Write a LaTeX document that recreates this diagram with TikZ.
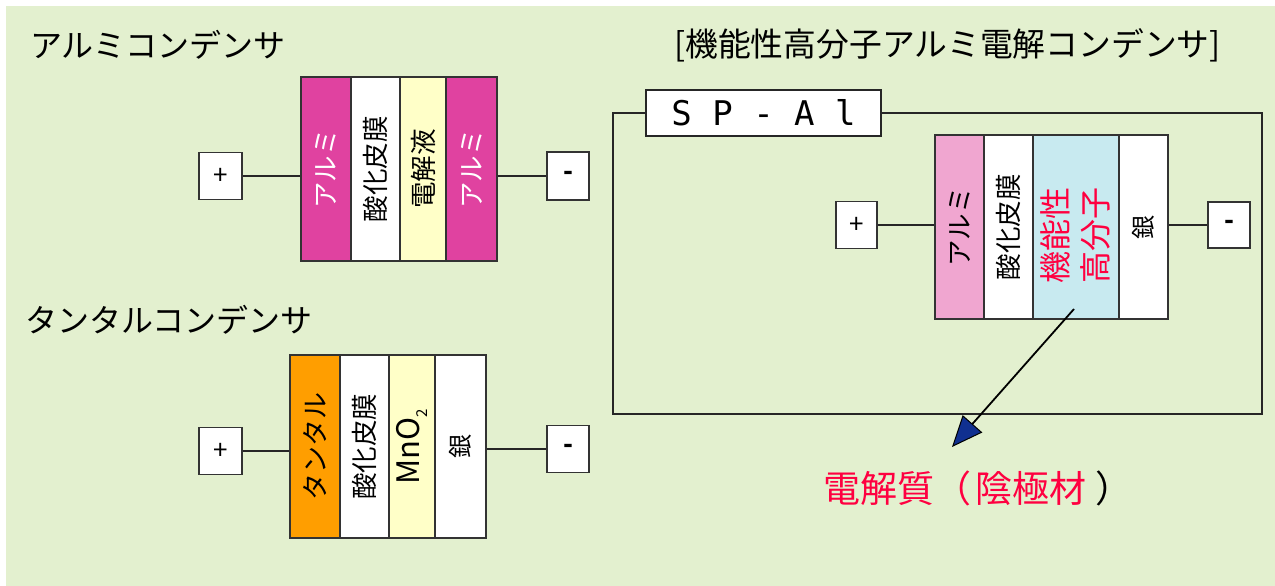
\documentclass[tikz,border=0pt]{standalone}
\usepackage{fontspec}
\setmainfont{Noto Sans CJK JP}
\newfontfamily\spmono{DejaVu Sans Mono}
\usetikzlibrary{arrows.meta}
\definecolor{bggreen}{HTML}{E3F0CF}
\definecolor{magAl}{HTML}{E042A0}
\definecolor{pinkAl}{HTML}{F0A6D0}
\definecolor{lblue}{HTML}{C8EAF0}
\definecolor{lyellow}{HTML}{FFFFC8}
\definecolor{tantal}{HTML}{FF9E00}
\definecolor{redtxt}{HTML}{FF0040}
\definecolor{navyhead}{HTML}{103090}
\tikzset{
  layer/.style={draw=black!80, line width=1.4pt, minimum height=184pt, inner sep=0pt},
  vtext/.style={rotate=90, font=\fontsize{26.5}{30}\selectfont, inner sep=0pt},
  term/.style={draw=black!80, fill=white, line width=1.2pt, inner sep=0pt,
    minimum width=43pt, minimum height=47pt, font=\fontsize{26}{30}\selectfont},
  wire/.style={draw=black!85, line width=1.2pt},
  titletext/.style={font=\fontsize{32}{38}\selectfont, anchor=west, inner sep=0pt},
}
\begin{document}
\begin{tikzpicture}[x=1pt, y=-1pt]
\useasboundingbox (0,0) rectangle (1275,586);
\fill[white] (0,0) rectangle (1275,586);
\fill[bggreen] (6,6) rectangle (1275,586);

% ---------- titles ----------
\node[titletext] (t1) at (30,45) {アルミコンデンサ};
\node[titletext] (t2) at (25,320) {タンタルコンデンサ};
\node[titletext, font=\fontsize{32.8}{38}\selectfont] (t3) at (674,45) {[機能性高分子アルミ電解コンデンサ]};

% ---------- aluminium capacitor ----------
\node[layer, fill=magAl, minimum width=50pt] (A1) at (326,169) {};
\node[layer, fill=white, minimum width=49pt] (A2) at (375.5,169) {};
\node[layer, fill=lyellow, minimum width=46pt] (A3) at (423,169) {};
\node[layer, fill=magAl, minimum width=51pt] (A4) at (471.5,169) {};
\node[vtext, text=white] (A1t) at (A1) {アルミ};
\node[vtext] (A2t) at (A2) {酸化皮膜};
\node[vtext] (A3t) at (A3) {電解液};
\node[vtext, text=white] (A4t) at (A4) {アルミ};
\node[term] (AP) at (220.5,176) {+};
\node[term, minimum width=42pt, minimum height=48pt] (AM) at (568,176) {\textbf{-}};
\draw[wire] (AP.east) -- (AP.east -| A1.west);
\draw[wire] (AM.west -| A4.east) -- (AM.west);

% ---------- tantalum capacitor ----------
\node[layer, fill=tantal, minimum width=50pt, minimum height=183pt] (T1) at (315,446.5) {};
\node[layer, fill=white, minimum width=49pt, minimum height=183pt] (T2) at (364.5,446.5) {};
\node[layer, fill=lyellow, minimum width=46pt, minimum height=183pt] (T3) at (412,446.5) {};
\node[layer, fill=white, minimum width=51pt, minimum height=183pt] (T4) at (460.5,446.5) {};
\node[vtext, font=\fontsize{27}{30}\selectfont] (T1t) at (T1) {タンタル};
\node[vtext] (T2t) at (T2) {酸化皮膜};
\node[vtext, font=\fontsize{31}{34}\selectfont] (T3t) at (T3) {MnO\raisebox{-8pt}{\fontsize{15}{15}\selectfont 2}};
\node[vtext, font=\fontsize{24}{26}\selectfont] (T4t) at (T4) {銀};
\node[term] (TP) at (220.5,451) {+};
\node[term, minimum width=42pt] (TM) at (568,449) {\textbf{-}};
\draw[wire] (TP.east) -- (TP.east -| T1.west);
\draw[wire] (TM.west -| T4.east) -- (TM.west);

% ---------- SP-Al ----------
\node[draw=black!85, line width=1.4pt, minimum width=649pt, minimum height=301pt, inner sep=0pt] (SP) at (937.5,263.5) {};
\node[draw=black!85, fill=white, line width=1.4pt, minimum width=235pt, minimum height=46pt, inner sep=0pt,
  font=\spmono\fontsize{34}{38}\selectfont] (SPl) at (763.5,113) {S P - A l};
\node[layer, fill=pinkAl, minimum width=49pt] (R1) at (959.5,227) {};
\node[layer, fill=white, minimum width=49pt] (R2) at (1008.5,227) {};
\node[layer, fill=lblue, minimum width=86pt] (R3) at (1076,227) {};
\node[layer, fill=white, minimum width=49pt] (R4) at (1143.5,227) {};
\node[vtext] (R1t) at (R1) {アルミ};
\node[vtext] (R2t) at (R2) {酸化皮膜};
\node[vtext, text=redtxt, font=\fontsize{32}{40}\selectfont, align=center] (R3t) at (1075,235) {機能性\\高分子};
\node[vtext, font=\fontsize{24}{26}\selectfont] (R4t) at (R4) {銀};
\node[term, minimum width=41pt] (RP) at (856.5,225) {+};
\node[term, minimum width=42pt, minimum height=46pt] (RM) at (1229,225) {\textbf{-}};
\draw[wire] (RP.east) -- (RP.east -| R1.west);
\draw[wire] (RM.west -| R4.east) -- (RM.west);

% ---------- arrow and label ----------
\coordinate (arrS) at (1074,309);
\coordinate (arrE) at (952,447);
\draw[line width=1.8pt, -{Triangle[length=31pt, width=26pt, fill=navyhead, line width=1pt]}] (arrS) -- (arrE);
\node[anchor=west, inner sep=0pt, font=\fontsize{37}{44}\selectfont, text=redtxt] (elec) at (823,488) {電解質（\hspace{4pt}陰極材\hspace{9pt}\textcolor{black}{）}};
\end{tikzpicture}
\end{document}
